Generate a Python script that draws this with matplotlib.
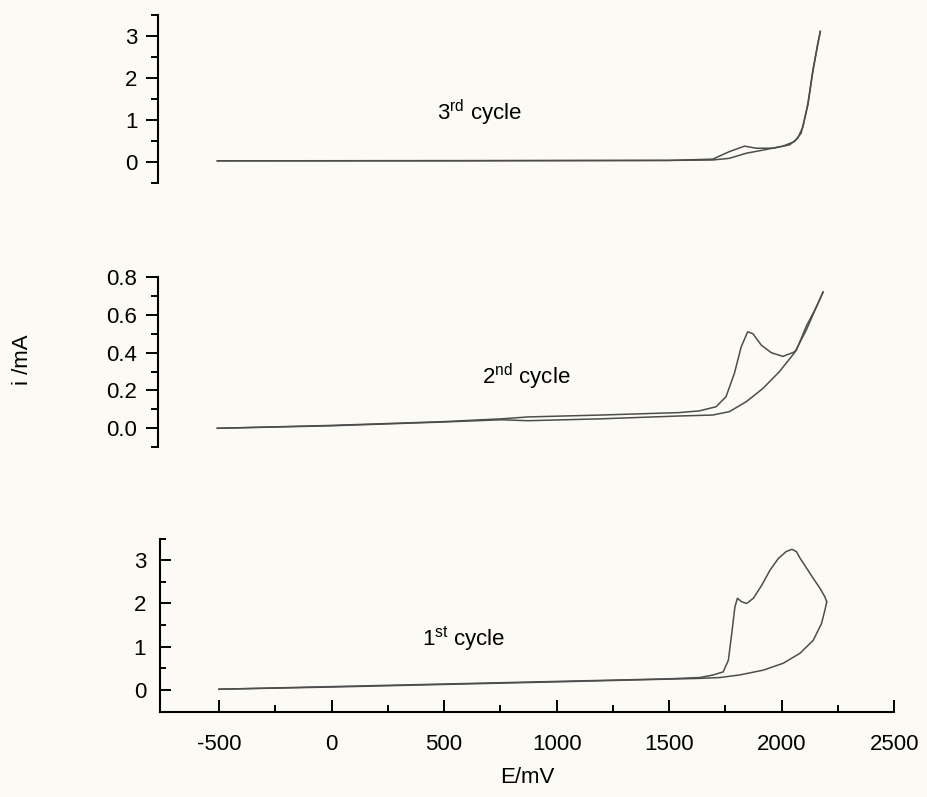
import matplotlib
matplotlib.use("Agg")
import matplotlib.pyplot as plt
from matplotlib.ticker import FixedLocator

plt.rcParams["font.family"] = ["Liberation Sans", "DejaVu Sans"]
plt.rcParams["mathtext.fontset"] = "custom"
plt.rcParams["mathtext.rm"] = "Liberation Sans"
plt.rcParams["mathtext.default"] = "regular"
plt.rcParams["axes.unicode_minus"] = False

# 1st cycle (bottom panel)
c1_fwd_e = [-500, 0, 500, 1000, 1500, 1637, 1696, 1740, 1763, 1778, 1792, 1803, 1822, 1844, 1874,
            1911, 1948, 1985, 2020, 2045, 2065, 2081, 2110, 2140, 2170, 2192, 2200]
c1_fwd_i = [0.02, 0.08, 0.14, 0.20, 0.26, 0.29, 0.35, 0.42, 0.69, 1.31, 1.92, 2.12, 2.04, 2.00, 2.12,
            2.42, 2.77, 3.04, 3.20, 3.25, 3.20, 3.05, 2.82, 2.58, 2.35, 2.15, 2.04]
c1_rev_e = [2200, 2192, 2177, 2140, 2081, 2007, 1918, 1814, 1726, 1637, 1000, 0, -500]
c1_rev_i = [2.04, 1.85, 1.54, 1.15, 0.85, 0.62, 0.46, 0.35, 0.29, 0.27, 0.19, 0.07, 0.02]

# 2nd cycle (middle panel)
c2_fwd_e = [-500, 0, 500, 760, 877, 1200, 1548, 1637, 1711, 1755, 1792, 1822, 1851, 1874, 1911,
            1955, 2007, 2051, 2066, 2111, 2155, 2185]
c2_fwd_i = [0.0, 0.015, 0.035, 0.05, 0.06, 0.07, 0.083, 0.092, 0.114, 0.167, 0.29, 0.43, 0.51, 0.50, 0.44,
            0.40, 0.38, 0.40, 0.41, 0.54, 0.64, 0.72]
c2_rev_e = [2185, 2155, 2111, 2059, 1992, 1918, 1844, 1770, 1696, 1548, 1200, 877, 760, 500, 0, -500]
c2_rev_i = [0.72, 0.64, 0.52, 0.40, 0.30, 0.21, 0.14, 0.088, 0.07, 0.065, 0.05, 0.04, 0.045, 0.033, 0.013, 0.0]

# 3rd cycle (top panel)
c3_fwd_e = [-500, 500, 1500, 1696, 1770, 1837, 1889, 1963, 2037, 2073, 2096, 2118, 2140, 2162, 2173]
c3_fwd_i = [0.02, 0.02, 0.03, 0.06, 0.24, 0.37, 0.32, 0.32, 0.40, 0.56, 0.83, 1.39, 2.18, 2.82, 3.10]
c3_rev_e = [2173, 2162, 2140, 2118, 2088, 2059, 2007, 1933, 1844, 1770, 1696, 1500, -500]
c3_rev_i = [3.10, 2.80, 2.15, 1.35, 0.68, 0.48, 0.37, 0.29, 0.20, 0.08, 0.04, 0.03, 0.02]

x_ticks = [-500, 0, 500, 1000, 1500, 2000, 2500]
x_minor = [-250, 250, 750, 1250, 1750, 2250]

PAPER = "#fbfaf5"
LINE = "#4d4d4d"
FS = 16

fig = plt.figure(figsize=(9.27, 7.97), dpi=100, facecolor=PAPER)

ax3 = fig.add_axes([0.1707, 0.7708, 0.7938, 0.2108])
ax2 = fig.add_axes([0.1707, 0.4389, 0.7938, 0.2136])
ax1 = fig.add_axes([0.1726, 0.1070, 0.7921, 0.2173])

for ax in (ax1, ax2, ax3):
    ax.set_facecolor("none")
    ax.set_xlim(-762, 2500)
    for side in ("top", "right"):
        ax.spines[side].set_visible(False)
    ax.spines["left"].set_linewidth(1.5)
    ax.tick_params(labelsize=FS, width=1.4)

for ax in (ax2, ax3):
    ax.spines["bottom"].set_visible(False)
    ax.tick_params(axis="x", which="both", bottom=False, labelbottom=False)
    ax.tick_params(axis="y", which="major", direction="out", length=9, pad=6)
    ax.tick_params(axis="y", which="minor", direction="out", length=5, width=1.4)

# top panel
ax3.plot(c3_fwd_e, c3_fwd_i, color=LINE, lw=1.1)
ax3.plot(c3_rev_e, c3_rev_i, color=LINE, lw=1.1)
ax3.set_ylim(-0.5, 3.5)
ax3.set_yticks([0, 1, 2, 3])
ax3.yaxis.set_minor_locator(FixedLocator([-0.5, 0.5, 1.5, 2.5, 3.5]))
ax3.text(660, 1.15, "3$^{rd}$ cycle", fontsize=FS, ha="center", va="center")

# middle panel
ax2.plot(c2_fwd_e, c2_fwd_i, color=LINE, lw=1.1)
ax2.plot(c2_rev_e, c2_rev_i, color=LINE, lw=1.1)
ax2.set_ylim(-0.1, 0.8)
ax2.set_yticks([0.0, 0.2, 0.4, 0.6, 0.8])
ax2.set_yticklabels(["0.0", "0.2", "0.4", "0.6", "0.8"])
ax2.yaxis.set_minor_locator(FixedLocator([-0.1, 0.1, 0.3, 0.5, 0.7]))
ax2.text(870, 0.27, "2$^{nd}$ cycle", fontsize=FS, ha="center", va="center")

# bottom panel
ax1.plot(c1_fwd_e, c1_fwd_i, color=LINE, lw=1.1)
ax1.plot(c1_rev_e, c1_rev_i, color=LINE, lw=1.1)
ax1.set_ylim(-0.5, 3.5)
ax1.set_yticks([0, 1, 2, 3])
ax1.yaxis.set_minor_locator(FixedLocator([0.5, 1.5, 2.5, 3.5]))
ax1.spines["bottom"].set_linewidth(1.5)
ax1.tick_params(axis="y", which="major", direction="in", length=8, pad=10)
ax1.tick_params(axis="y", which="minor", direction="in", length=4.5, width=1.4)
ax1.set_xticks(x_ticks)
ax1.set_xticklabels([str(v) for v in x_ticks])
ax1.xaxis.set_minor_locator(FixedLocator(x_minor))
ax1.tick_params(axis="x", which="major", direction="in", length=9, pad=16)
ax1.tick_params(axis="x", which="minor", direction="in", length=5, width=1.4)
ax1.text(588, 1.2, "1$^{st}$ cycle", fontsize=FS, ha="center", va="center")
ax1.set_xlabel("E/mV", fontsize=FS, labelpad=9)

fig.text(22 / 927, 1 - 360 / 797, "i /mA", rotation=90, fontsize=FS, ha="center", va="center")

fig.savefig("out.png", dpi=100, facecolor=PAPER)
